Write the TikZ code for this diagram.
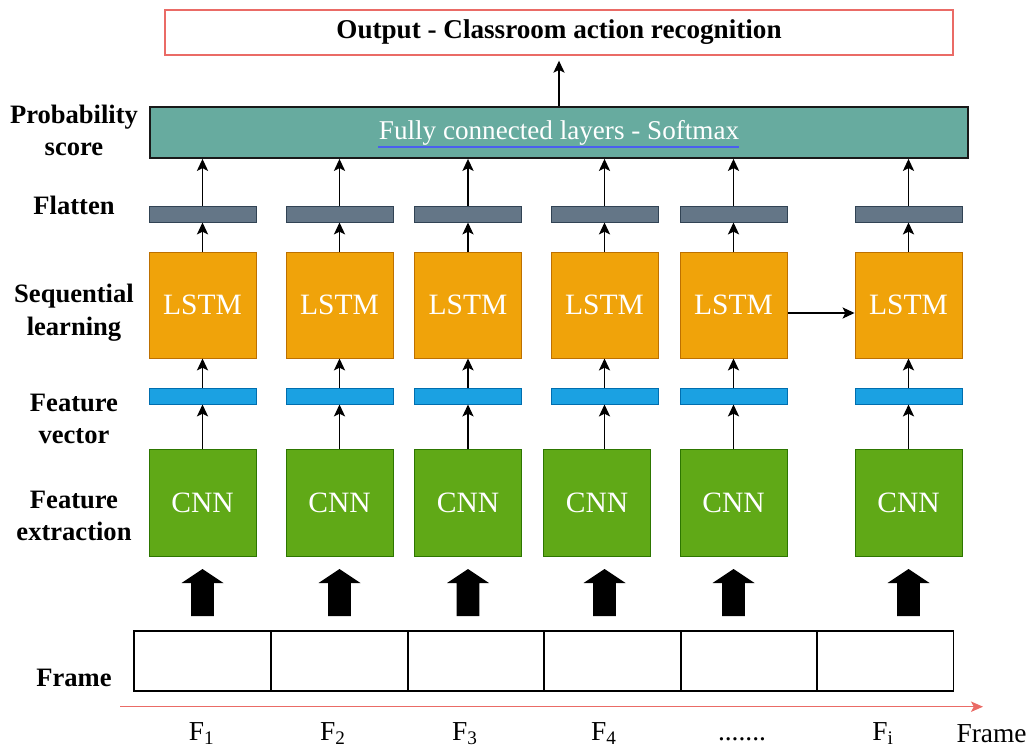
\documentclass[tikz,border=0pt]{standalone}
\usepackage{fontspec}
\setmainfont{Liberation Serif}
\usepackage{tikz}
\usetikzlibrary{calc,arrows.meta}

\definecolor{cnngreen}{HTML}{60A917}
\definecolor{cnnedge}{HTML}{2D7600}
\definecolor{lstmorange}{HTML}{F0A30A}
\definecolor{lstmedge}{HTML}{BD7000}
\definecolor{vecblue}{HTML}{1BA1E2}
\definecolor{vecedge}{HTML}{006EAF}
\definecolor{flatgray}{HTML}{647687}
\definecolor{flatedge}{HTML}{314354}
\definecolor{fcteal}{HTML}{67AB9F}
\definecolor{outred}{HTML}{EA6B66}
\definecolor{spellblue}{HTML}{4A5FF0}

\tikzset{
  block/.style={minimum width=2.675cm, inner sep=0, line width=0.7pt, text=white, font=\fontsize{21}{25}\selectfont},
  cnnbox/.style={block, fill=cnngreen, draw=cnnedge, minimum height=2.675cm},
  lstmbox/.style={block, fill=lstmorange, draw=lstmedge, minimum height=2.65cm},
  vecbar/.style={block, fill=vecblue, draw=vecedge, minimum height=0.4cm},
  flatbar/.style={block, fill=flatgray, draw=flatedge, minimum height=0.4cm},
  framebox/.style={draw, line width=0.8pt, minimum width=3.425cm, minimum height=1.5cm, inner sep=0},
  rowlabel/.style={align=center, font=\bfseries\fontsize{18.9}{23}\selectfont},
  flabel/.style={anchor=base, font=\fontsize{19.5}{23}\selectfont},
  arr/.style={line width=0.9pt, -{Stealth[length=0.3cm,width=0.28cm,inset=0.07cm]}},
  bigarrow/.pic={\fill (-0.283,0) -- (-0.283,0.825) -- (-0.525,0.825) -- (0,1.175) -- (0.525,0.825) -- (0.283,0.825) -- (0.283,0) -- cycle;}
}

\begin{document}
\begin{tikzpicture}
\useasboundingbox (0,0) rectangle (25.725,18.75);

% output and softmax
\node[draw=outred, line width=1pt, minimum width=19.7cm, minimum height=1.125cm, inner sep=0,
      font=\bfseries\fontsize{19.3}{23}\selectfont] (out) at (13.975,17.9375) {Output - Classroom action recognition};
\node[draw=black!90, fill=fcteal, line width=1.3pt, minimum width=20.45cm, minimum height=1.275cm, inner sep=0,
      text=white, font=\fontsize{19.3}{23}\selectfont] (fc) at (13.975,15.4375) {Fully connected layers - Softmax};
\draw[spellblue, line width=0.8pt] (9.45,15.075) -- (18.475,15.075);
\draw[arr, shorten >=0.125cm] (fc) -- (out);

% row labels
\node[rowlabel] (lprob) at (1.85,15.49) {Probability\\score};
\node[rowlabel, anchor=base] (lflat) at (1.85,13.375) {Flatten};
\node[rowlabel] (lseq) at (1.85,10.93) {Sequential\\learning};
\node[rowlabel] (lvec) at (1.85,8.28) {Feature\\vector};
\node[rowlabel] (lext) at (1.85,5.86) {Feature\\extraction};
\node[rowlabel, anchor=base] (lframe) at (1.85,1.58) {Frame};

% column 1
\node[flatbar] (fl1) at (5.0625,13.4) {};
\node[lstmbox] (ls1) at (5.0625,11.125) {LSTM};
\node[vecbar] (fv1) at (5.0625,8.85) {};
\node[cnnbox] (cn1) at (5.0625,6.1875) {CNN};
% column 2
\node[flatbar] (fl2) at (8.4875,13.4) {};
\node[lstmbox] (ls2) at (8.4875,11.125) {LSTM};
\node[vecbar] (fv2) at (8.4875,8.85) {};
\node[cnnbox] (cn2) at (8.4875,6.1875) {CNN};
% column 3
\node[flatbar] (fl3) at (11.7,13.4) {};
\node[lstmbox] (ls3) at (11.7,11.125) {LSTM};
\node[vecbar] (fv3) at (11.7,8.85) {};
\node[cnnbox] (cn3) at (11.7,6.1875) {CNN};
% column 4
\node[flatbar] (fl4) at (15.1125,13.4) {};
\node[lstmbox] (ls4) at (15.1125,11.125) {LSTM};
\node[vecbar] (fv4) at (15.1125,8.85) {};
\node[cnnbox] (cn4) at (14.925,6.1875) {CNN};
% column 5
\node[flatbar] (fl5) at (18.3375,13.4) {};
\node[lstmbox] (ls5) at (18.3375,11.125) {LSTM};
\node[vecbar] (fv5) at (18.3375,8.85) {};
\node[cnnbox] (cn5) at (18.3375,6.1875) {CNN};
% column i
\node[flatbar] (fl6) at (22.7125,13.4) {};
\node[lstmbox] (ls6) at (22.7125,11.125) {LSTM};
\node[vecbar] (fv6) at (22.7125,8.85) {};
\node[cnnbox] (cn6) at (22.7125,6.1875) {CNN};

% arrows up the columns
\draw[arr] (fl1.north) -- (fl1.north |- fc.south);
\draw[arr] (fl2.north) -- (fl2.north |- fc.south);
\draw[arr] (fl3.north) -- (fl3.north |- fc.south);
\draw[arr] (fl4.north) -- (fl4.north |- fc.south);
\draw[arr] (fl5.north) -- (fl5.north |- fc.south);
\draw[arr] (fl6.north) -- (fl6.north |- fc.south);
\draw[arr] (ls1) -- (fl1);
\draw[arr] (ls2) -- (fl2);
\draw[arr] (ls3) -- (fl3);
\draw[arr] (ls4) -- (fl4);
\draw[arr] (ls5) -- (fl5);
\draw[arr] (ls6) -- (fl6);
\draw[arr] (fv1) -- (ls1);
\draw[arr] (fv2) -- (ls2);
\draw[arr] (fv3) -- (ls3);
\draw[arr] (fv4) -- (ls4);
\draw[arr] (fv5) -- (ls5);
\draw[arr] (fv6) -- (ls6);
\draw[arr] (cn1) -- (fv1);
\draw[arr] (cn2) -- (fv2);
\draw[arr] (cn3) -- (fv3);
\draw[arr] (fv4.south |- cn4.north) -- (fv4);
\draw[arr] (cn5) -- (fv5);
\draw[arr] (cn6) -- (fv6);
\draw[arr] ([yshift=-0.2cm]ls5.east) -- ([yshift=-0.2cm]ls6.west);

% input arrows
\pic at (5.0625,3.35) {bigarrow};
\pic at (8.4875,3.35) {bigarrow};
\pic at (11.7,3.35) {bigarrow};
\pic at (15.1125,3.35) {bigarrow};
\pic at (18.3375,3.35) {bigarrow};
\pic at (22.7125,3.35) {bigarrow};

% frames
\node[framebox] (fr1) at (5.0625,2.225) {};
\node[framebox] (fr2) at (8.4875,2.225) {};
\node[framebox] (fr3) at (11.9,2.225) {};
\node[framebox] (fr4) at (15.3125,2.225) {};
\node[framebox] (fr5) at (18.725,2.225) {};
\node[framebox] (fr6) at (22.125,2.225) {};

% time line
\coordinate (t0) at (3,1.0825);
\coordinate (t1) at (24.575,1.0825);
\draw[outred, line width=0.9pt, -{Stealth[length=0.3cm,width=0.26cm,inset=0.07cm]}] (t0) -- (t1);
\node[flabel] (f1) at (5.04,0.24) {F\textsubscript{1}};
\node[flabel] (f2) at (8.325,0.24) {F\textsubscript{2}};
\node[flabel] (f3) at (11.625,0.24) {F\textsubscript{3}};
\node[flabel] (f4) at (15.1,0.24) {F\textsubscript{4}};
\node[flabel] (fdots) at (18.55,0.24) {.......};
\node[flabel] (fi) at (22.075,0.24) {F\textsubscript{i}};
\node[flabel] (fname) at (24.79,0.2) {Frame};
\end{tikzpicture}
\end{document}
